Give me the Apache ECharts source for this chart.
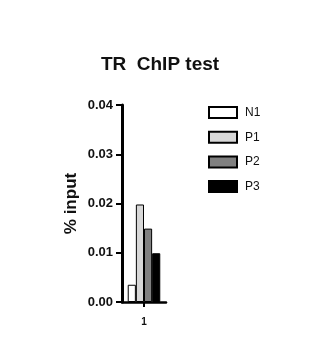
<!DOCTYPE html>
<html><head><meta charset="utf-8">
<script src="https://cdn.jsdelivr.net/npm/echarts@6/dist/echarts.min.js"></script>
<style>html,body{margin:0;padding:0;background:#fff}#c{width:323px;height:350px}</style>
</head><body><div id="c"></div>
<script>
var categories = ['1'];
var seriesNames = ['N1', 'P1', 'P2', 'P3'];
var N1 = [0.0035];
var P1 = [0.0198];
var P2 = [0.0149];
var P3 = [0.0099];
var yTicks = ['0.00', '0.01', '0.02', '0.03', '0.04'];
var colors = ['#ffffff', '#d8d8d8', '#808080', '#000000'];
var values = [N1, P1, P2, P3];
var font = 'Liberation Sans, Arial, sans-serif';
var chart = echarts.init(document.getElementById('c'), null, {renderer: 'canvas'});
chart.setOption({
  animation: false,
  title: {text: 'TR  ChIP test', left: 160, top: 55, padding: 0, textAlign: 'center',
    textStyle: {fontFamily: font, fontWeight: 'bold', fontSize: 19, color: '#111'}},
  legend: {orient: 'vertical', left: 208, top: 106, padding: 0, itemWidth: 28, itemHeight: 11, itemGap: 11.7,
    icon: 'rect', data: seriesNames,
    textStyle: {fontFamily: font, fontSize: 12, color: '#111', padding: [0, 0, 0, 3]}},
  grid: {left: 122, right: 157, top: 105, bottom: 48, containLabel: false},
  xAxis: {type: 'category', data: categories,
    axisLine: {lineStyle: {color: '#000', width: 2.5}},
    axisTick: {show: true, alignWithLabel: true, length: 5, lineStyle: {color: '#000', width: 2}},
    axisLabel: {fontFamily: font, fontWeight: 'bold', fontSize: 10, color: '#111', margin: 15}},
  yAxis: {type: 'value', min: 0, max: 0.04, interval: 0.01,
    name: '% input', nameLocation: 'middle', nameRotate: 90, nameGap: 42,
    nameTextStyle: {fontFamily: font, fontWeight: 'bold', fontSize: 17, color: '#111'},
    splitLine: {show: false},
    axisLine: {show: true, lineStyle: {color: '#000', width: 3}},
    axisTick: {show: true, length: 6, lineStyle: {color: '#000', width: 2}},
    axisLabel: {fontFamily: font, fontWeight: 'bold', fontSize: 13, color: '#111', margin: 9,
      formatter: function (v) { return yTicks[Math.round(v * 100)]; }}},
  series: seriesNames.map(function (n, i) {
    return {name: n, type: 'bar', data: values[i], barGap: '0%', barCategoryGap: '26%',
      itemStyle: {color: colors[i], borderColor: '#000', borderWidth: 1}};
  })
});
</script></body></html>
